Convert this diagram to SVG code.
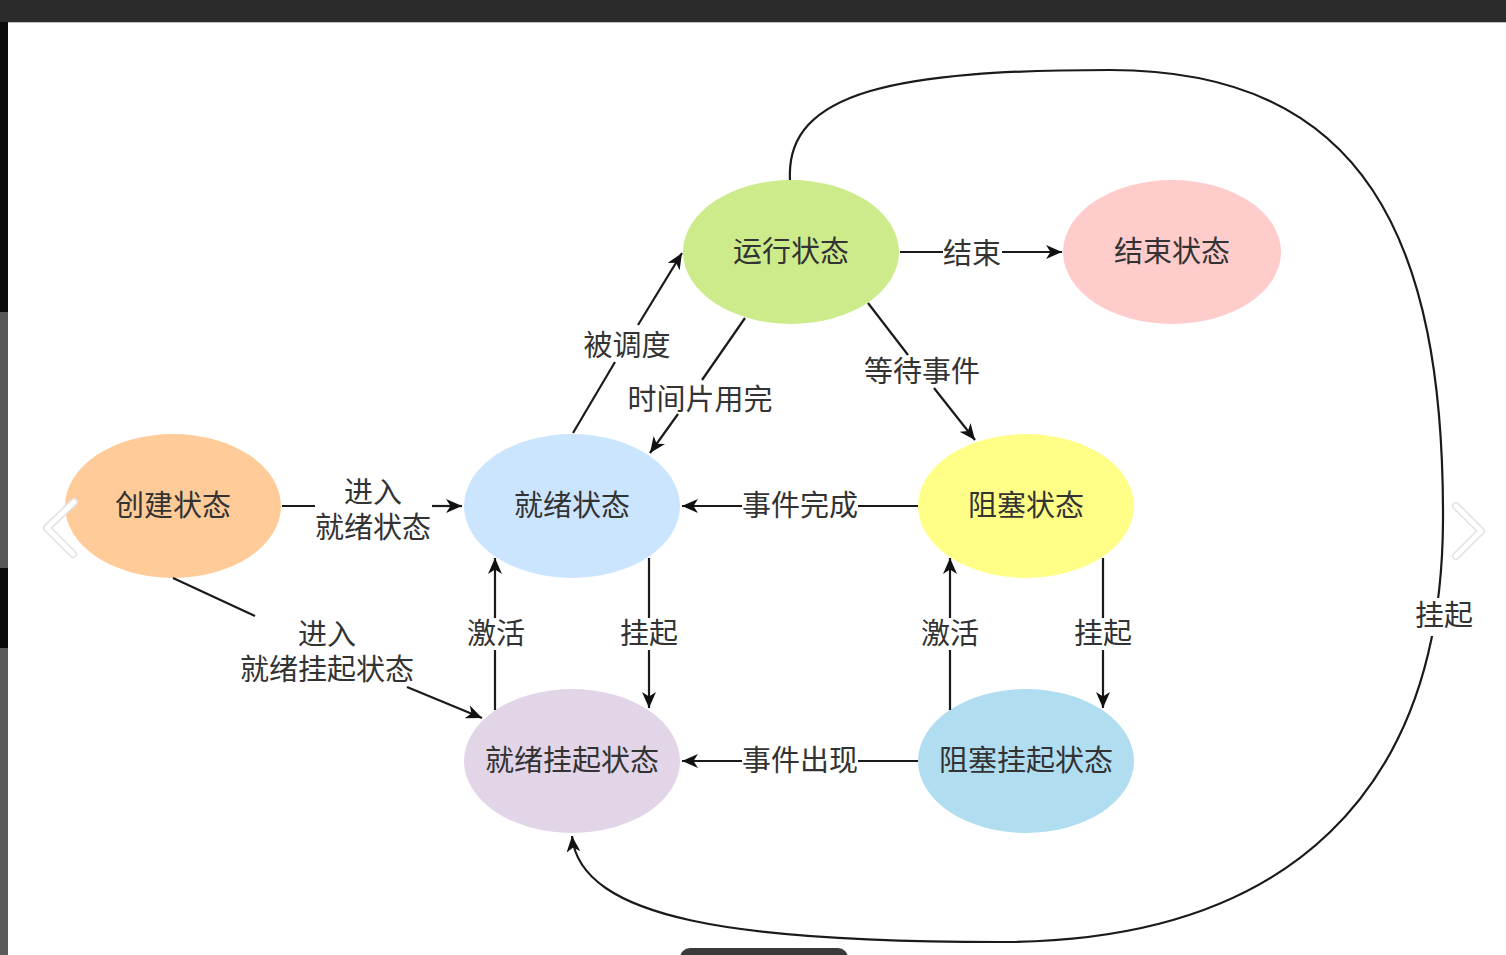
<svg xmlns="http://www.w3.org/2000/svg" width="1506" height="955" viewBox="0 0 1506 955">
  <style>
    .node-label { font-family: "Noto Sans CJK SC", "Noto Sans", sans-serif; font-size: 29px; fill: #333333; text-anchor: middle; }
    .edge-label { font-family: "Noto Sans CJK SC", "Noto Sans", sans-serif; font-size: 29px; fill: #333333; text-anchor: middle; }
    .edge { fill: none; stroke: #1a1a1a; stroke-width: 2.2; }
    .chev-shadow { fill: none; stroke: #e2e2e2; stroke-width: 8; stroke-linecap: round; stroke-linejoin: round; }
    .chev { fill: none; stroke: #ffffff; stroke-width: 5; stroke-linecap: round; stroke-linejoin: round; }
  </style>
  <defs>
    <marker id="arrow" viewBox="0 0 16 14" refX="16" refY="7" markerWidth="16" markerHeight="14" markerUnits="userSpaceOnUse" orient="auto">
      <path d="M0,0 L16,7 L0,14 L4.5,7 z" fill="#111111"/>
    </marker>
  </defs>

  <!-- screenshot frame -->
  <g id="frame">
    <rect x="0" y="0" width="1506" height="955" fill="#ffffff"/>
    <rect x="0" y="0" width="1506" height="22" fill="#2b2b2b"/>
    <rect x="8" y="22" width="1498" height="1" fill="#bdbdbd"/>
    <rect x="0" y="22" width="8" height="290" fill="#0b0b0b"/>
    <rect x="0" y="312" width="8" height="256" fill="#585858"/>
    <rect x="0" y="568" width="8" height="80" fill="#0a0a0a"/>
    <rect x="0" y="648" width="8" height="307" fill="#5a5a5a"/>
    <rect x="680" y="948" width="168" height="20" rx="10" fill="#3a3a3a"/>
  </g>

  <!-- nodes -->
  <g id="node-running">
    <ellipse cx="791" cy="252" rx="108" ry="72" fill="#cdeb8b"/>
    <text class="node-label" x="791" y="262">运行状态</text>
  </g>
  <g id="node-end">
    <ellipse cx="1172" cy="252" rx="109" ry="72" fill="#ffcccc"/>
    <text class="node-label" x="1172" y="262">结束状态</text>
  </g>
  <g id="node-create">
    <ellipse cx="173" cy="506" rx="108" ry="72" fill="#ffcc99"/>
    <text class="node-label" x="173" y="516">创建状态</text>
  </g>
  <g id="node-ready">
    <ellipse cx="572" cy="506" rx="108" ry="72" fill="#cce5ff"/>
    <text class="node-label" x="572" y="516">就绪状态</text>
  </g>
  <g id="node-blocked">
    <ellipse cx="1026" cy="506" rx="108" ry="72" fill="#ffff88"/>
    <text class="node-label" x="1026" y="516">阻塞状态</text>
  </g>
  <g id="node-ready-suspend">
    <ellipse cx="572" cy="761" rx="108" ry="72" fill="#e1d5e7"/>
    <text class="node-label" x="572" y="771">就绪挂起状态</text>
  </g>
  <g id="node-blocked-suspend">
    <ellipse cx="1026" cy="761" rx="108" ry="72" fill="#b1ddf0"/>
    <text class="node-label" x="1026" y="771">阻塞挂起状态</text>
  </g>

  <!-- connectors -->
  <g id="connectors">
    <!-- 创建 -> 就绪 -->
    <path class="edge" d="M282,506 H315"/>
    <path class="edge" d="M432,506 H462" marker-end="url(#arrow)"/>
    <text class="edge-label" x="373" y="503"><tspan x="373">进入</tspan><tspan x="373" dy="35">就绪状态</tspan></text>

    <!-- 创建 -> 就绪挂起 -->
    <path class="edge" d="M173,578 L255,616"/>
    <path class="edge" d="M407,687 L482,718" marker-end="url(#arrow)"/>
    <text class="edge-label" x="327" y="645"><tspan x="327">进入</tspan><tspan x="327" dy="35">就绪挂起状态</tspan></text>

    <!-- 就绪 -> 运行 被调度 -->
    <path class="edge" d="M573,433 L615,362"/>
    <path class="edge" d="M638,325 L682,253" marker-end="url(#arrow)"/>
    <text class="edge-label" x="627" y="356">被调度</text>

    <!-- 运行 -> 就绪 时间片用完 -->
    <path class="edge" d="M745,318 L702,380"/>
    <path class="edge" d="M678,414 L650,453" marker-end="url(#arrow)"/>
    <text class="edge-label" x="700" y="410">时间片用完</text>

    <!-- 运行 -> 结束 -->
    <path class="edge" d="M900,252 H943"/>
    <path class="edge" d="M1002,252 H1062" marker-end="url(#arrow)"/>
    <text class="edge-label" x="972" y="264">结束</text>

    <!-- 运行 -> 阻塞 等待事件 -->
    <path class="edge" d="M868,303 L908,355"/>
    <path class="edge" d="M934,388 L975,440" marker-end="url(#arrow)"/>
    <text class="edge-label" x="922" y="382">等待事件</text>

    <!-- 阻塞 -> 就绪 事件完成 -->
    <path class="edge" d="M918,506 H858"/>
    <path class="edge" d="M742,506 H682" marker-end="url(#arrow)"/>
    <text class="edge-label" x="800" y="516">事件完成</text>

    <!-- 阻塞挂起 -> 就绪挂起 事件出现 -->
    <path class="edge" d="M918,761 H858"/>
    <path class="edge" d="M742,761 H682" marker-end="url(#arrow)"/>
    <text class="edge-label" x="800" y="771">事件出现</text>

    <!-- 就绪挂起 -> 就绪 激活 -->
    <path class="edge" d="M495,710 V650"/>
    <path class="edge" d="M495,618 V558" marker-end="url(#arrow)"/>
    <text class="edge-label" x="496" y="644">激活</text>

    <!-- 就绪 -> 就绪挂起 挂起 -->
    <path class="edge" d="M649,558 V618"/>
    <path class="edge" d="M649,650 V708" marker-end="url(#arrow)"/>
    <text class="edge-label" x="649" y="644">挂起</text>

    <!-- 阻塞挂起 -> 阻塞 激活 -->
    <path class="edge" d="M950,710 V650"/>
    <path class="edge" d="M950,618 V558" marker-end="url(#arrow)"/>
    <text class="edge-label" x="950" y="644">激活</text>

    <!-- 阻塞 -> 阻塞挂起 挂起 -->
    <path class="edge" d="M1103,558 V618"/>
    <path class="edge" d="M1103,650 V708" marker-end="url(#arrow)"/>
    <text class="edge-label" x="1103" y="644">挂起</text>

    <!-- 运行 -> 就绪挂起 挂起 (big curve) -->
    <path class="edge" d="M790,180 C785,90 900,70 1110,70 C1365,70 1444,240 1443,520 C1442,790 1290,942 1000,942 C740,942 580,920 572,836" marker-end="url(#arrow)"/>
    <rect x="1414" y="598" width="60" height="38" fill="#ffffff"/>
    <text class="edge-label" x="1444" y="626">挂起</text>
  </g>

  <!-- carousel chevrons -->
  <g id="chevrons">
    <polyline class="chev-shadow" points="74,502 47,528 73,554"/>
    <polyline class="chev" points="74,502 47,528 73,554"/>
    <polyline class="chev-shadow" points="1456,506 1481,531 1456,556"/>
    <polyline class="chev" points="1456,506 1481,531 1456,556"/>
  </g>
</svg>
